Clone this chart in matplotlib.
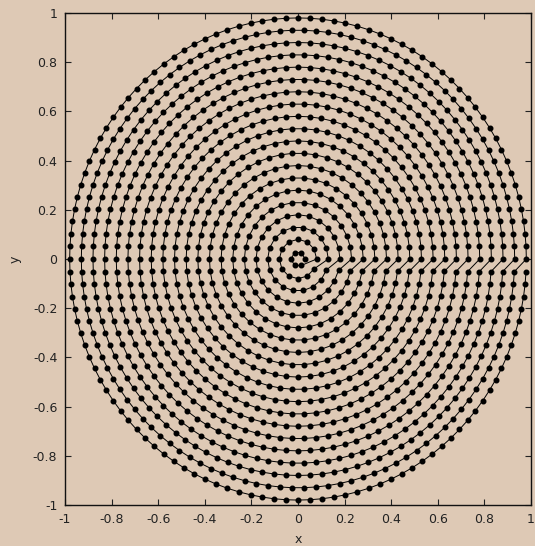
import numpy as np
import matplotlib
matplotlib.use('Agg')
import matplotlib.pyplot as plt
from matplotlib.ticker import FuncFormatter

# ring radii, innermost to outermost
radii = [0.03, 0.08, 0.13, 0.18, 0.23, 0.28, 0.33, 0.38, 0.43, 0.48,
         0.53, 0.58, 0.63, 0.68, 0.73, 0.78, 0.83, 0.88, 0.93, 0.98]
# number of points placed on each ring
counts = [6, 12, 18, 24, 30, 36, 42, 48, 54, 60,
          66, 72, 78, 84, 90, 96, 102, 108, 114, 120]
ticks = [-1, -0.8, -0.6, -0.4, -0.2, 0, 0.2, 0.4, 0.6, 0.8, 1]

BG = '#dec9b5'

xs = []
ys = []
for r, n in zip(radii, counts):
    t = 2 * np.pi * np.arange(n) / n
    xs.append(r * np.cos(t))
    ys.append(r * np.sin(t))
xs = np.concatenate(xs)
ys = np.concatenate(ys)

fig = plt.figure(figsize=(5.35, 5.46), dpi=100, facecolor=BG)
ax = fig.add_axes([65 / 535, 1 - 505 / 546, 466 / 535, 492 / 546])
ax.set_facecolor(BG)

ax.plot(xs, ys, '-o', color='black', lw=0.7, ms=3.3, mec='black', mfc='black')

ax.set_xlim(-1, 1)
ax.set_ylim(-1, 1)
ax.set_xticks(ticks)
ax.set_yticks(ticks)
fmt = FuncFormatter(lambda v, p: '%g' % v)
ax.xaxis.set_major_formatter(fmt)
ax.yaxis.set_major_formatter(fmt)
ax.tick_params(direction='in', length=4.5, width=0.8, colors='#222222',
               labelcolor='#222222', labelsize=9, top=True, right=True)
ax.tick_params(axis='x', pad=6)
ax.tick_params(axis='y', pad=5.5)
for s in ax.spines.values():
    s.set_linewidth(1.0)
    s.set_color('#111111')

ax.set_xlabel('x', fontsize=9, color='#222222', labelpad=5)
ax.set_ylabel('y', fontsize=9, color='#222222', labelpad=8)

fig.savefig('out.png', dpi=100, facecolor=BG)
